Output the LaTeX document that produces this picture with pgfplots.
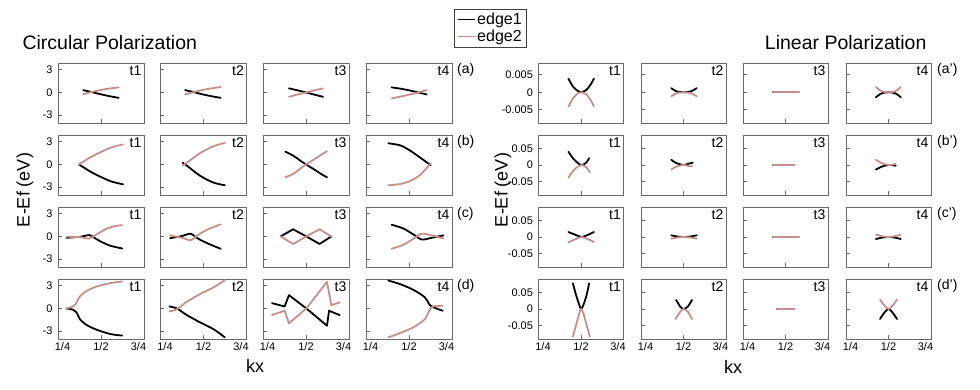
\documentclass[border=0pt]{standalone}
\usepackage{fontspec}
\setmainfont{Liberation Sans}
\usepackage{pgfplots}
\pgfplotsset{compat=1.18}
\definecolor{edgepink}{RGB}{196,144,140}
\definecolor{frame}{RGB}{105,105,105}

\pgfplotsset{
  panel/.style={scale only axis, width=86pt, height=60pt, anchor=south west,
    xmin=0.25, xmax=0.75, xtick={0.25,0.5,0.75}, xticklabels={},
    yticklabels={}, tick align=inside, xtick pos=bottom, ytick pos=left,
    scaled ticks=false, axis line style={frame, line width=0.8pt},
    major tick length=3.5pt, every tick/.style={frame, line width=0.8pt},
    tick label style={font=\fontsize{11}{12}\selectfont},
    yticklabel style={xshift=-2pt},
    every axis plot/.append style={line width=1.8pt, smooth, line cap=round, line join=round}},
  e1/.style={black}, e2/.style={edgepink},
  sharp/.style={every axis plot/.append style={sharp plot}},
  % left block: circular polarization
  L/.style={ymin=-4.05, ymax=3.9, ytick={-3,0,3}},
  Ly/.style={yticklabels={-3,0,3}},
  % right block: linear polarization
  Ra/.style={width=85pt, ymin=-0.0088, ymax=0.0084, ytick={-0.005,0,0.005}},
  Ray/.style={yticklabels={-0.005,0,0.005}},
  Rb/.style={width=85pt, ymin=-0.09, ymax=0.09, ytick={-0.05,0,0.05}},
  Rby/.style={yticklabels={-0.05,0,0.05}},
  xl/.style={xticklabels={\hspace*{9pt}1/4,1/2,3/4\hspace*{11pt}}},
  legimg/.style={legend entries={edge1,edge2},
    legend image code/.code={\draw[#1,sharp plot] (0pt,0pt) -- (16pt,0pt);},
    legend style={at={(5.03,1.583)}, anchor=center, draw=black!75, line width=0.6pt,
      font=\fontsize{16}{18}\selectfont, inner xsep=3pt, inner ysep=2pt,
      row sep=0pt},
    legend cell align=left},
}
\tikzset{tl/.style={anchor=north east, inner sep=2.5pt, font=\fontsize{14}{14}\selectfont}}

% #1 position, #2 options, #3 panel tag, #4 edge1, #5 edge2
\newcommand\panel[5]{%
  \begin{axis}[panel, at={(#1)}, #2]
    \addplot[e1] coordinates {#4};
    \addplot[e2] coordinates {#5};
    \node[tl] at (rel axis cs:1,1) {#3};
  \end{axis}}

\begin{document}
\begin{tikzpicture}
\useasboundingbox (0,0) rectangle (980pt,390pt);

% ---------- Circular polarization ----------
% row (a)
\panel{58pt,267pt}{L,Ly,legimg}{t1}
  {(0.397,0.31) (0.45,0.02) (0.50,-0.25) (0.55,-0.5) (0.603,-0.72)}
  {(0.397,-0.22) (0.45,0.08) (0.50,0.33) (0.55,0.52) (0.603,0.67)}
\panel{160.5pt,267pt}{L}{t2}
  {(0.393,0.31) (0.45,0.0) (0.50,-0.28) (0.55,-0.52) (0.60,-0.72)}
  {(0.393,-0.27) (0.45,0.08) (0.50,0.35) (0.55,0.55) (0.60,0.72)}
\panel{263pt,267pt}{L}{t3}
  {(0.401,0.54) (0.45,0.28) (0.50,0.0) (0.55,-0.3) (0.599,-0.58)}
  {(0.401,-0.58) (0.45,-0.28) (0.50,0.0) (0.55,0.28) (0.599,0.54)}
\panel{366pt,267pt}{L}{t4}
  {(0.399,0.67) (0.45,0.5) (0.50,0.28) (0.55,0.02) (0.603,-0.27)}
  {(0.399,-0.8) (0.45,-0.55) (0.50,-0.3) (0.55,-0.03) (0.603,0.31)}
% row (b)
\panel{58pt,195pt}{L,Ly}{t1}
  {(0.372,0.0) (0.436,-0.92) (0.495,-1.61) (0.554,-2.21) (0.60,-2.5) (0.628,-2.63)}
  {(0.372,0.0) (0.436,0.92) (0.495,1.6) (0.554,2.2) (0.60,2.5) (0.628,2.65)}
\panel{160.5pt,195pt}{L}{t2}
  {(0.379,0.23) (0.402,-0.14) (0.48,-1.5) (0.557,-2.4) (0.624,-2.76)}
  {(0.379,-0.1) (0.402,0.2) (0.48,1.5) (0.557,2.4) (0.624,2.86)}
\panel{263pt,195pt}{L}{t3}
  {(0.38,1.7) (0.43,1.1) (0.47,0.45) (0.50,0.0) (0.55,-0.7) (0.59,-1.3) (0.622,-1.7)}
  {(0.38,-1.7) (0.43,-1.2) (0.47,-0.5) (0.50,0.0) (0.55,0.7) (0.59,1.3) (0.622,1.75)}
\panel{366pt,195pt}{L}{t4}
  {(0.38,2.8) (0.448,2.53) (0.506,1.84) (0.564,0.92) (0.626,-0.1)}
  {(0.38,-2.77) (0.448,-2.6) (0.506,-2.2) (0.564,-1.4) (0.626,0.12)}
% row (c)
\panel{58pt,123pt}{L,Ly}{t1}
  {(0.299,-0.18) (0.377,-0.05) (0.432,0.18) (0.456,-0.1) (0.495,-0.64) (0.554,-1.23) (0.623,-1.59)}
  {(0.299,-0.05) (0.377,-0.09) (0.432,-0.27) (0.475,0.27) (0.534,1.05) (0.58,1.35) (0.623,1.5)}
\panel{160.5pt,123pt}{L}{t2}
  {(0.306,-0.23) (0.374,0.05) (0.426,0.36) (0.46,-0.18) (0.518,-0.86) (0.60,-1.64)}
  {(0.306,0.14) (0.374,-0.18) (0.426,-0.5) (0.46,0.05) (0.518,0.86) (0.60,1.6)}
\panel{263pt,123pt}{L,sharp}{t3}
  {(0.353,0) (0.425,0.95) (0.502,0) (0.579,-1.0) (0.647,0)}
  {(0.353,0) (0.425,-1.0) (0.502,0) (0.579,0.95) (0.647,0)}
\panel{366pt,123pt}{L}{t4}
  {(0.399,1.55) (0.467,1.05) (0.525,0.27) (0.574,-0.41) (0.632,-0.18) (0.70,0.14)}
  {(0.399,-1.64) (0.467,-1.1) (0.525,-0.32) (0.574,0.36) (0.632,0.14) (0.70,-0.27)}
% row (d)
\panel{58pt,51pt}{L,Ly,xl}{t1}
  {(0.299,0) (0.338,-0.18) (0.358,-0.53) (0.377,-1.41) (0.417,-2.2) (0.475,-2.82) (0.554,-3.39) (0.623,-3.6)}
  {(0.299,0) (0.338,0.26) (0.358,0.79) (0.377,1.59) (0.417,2.33) (0.475,2.9) (0.554,3.35) (0.623,3.57)}
\panel{160.5pt,51pt}{L,xl}{t2}
  {(0.302,0.26) (0.345,0) (0.403,-0.88) (0.48,-1.85) (0.557,-2.73) (0.624,-3.83)}
  {(0.302,-0.4) (0.345,-0.09) (0.403,0.88) (0.48,1.9) (0.557,2.78) (0.624,3.74)}
\panel{263pt,51pt}{L,xl,sharp}{t3}
  {(0.302,0.7) (0.376,0.26) (0.401,1.76) (0.502,0) (0.622,-2.29) (0.634,-0.31) (0.696,-0.88)}
  {(0.302,-0.88) (0.376,-0.31) (0.401,-1.98) (0.502,0) (0.622,3.52) (0.647,0.44) (0.696,0.79)}
\panel{366pt,51pt}{L,xl}{t4}
  {(0.38,3.7) (0.448,3.22) (0.525,2.47) (0.593,1.45) (0.626,0.35) (0.696,-0.31)}
  {(0.38,-3.83) (0.448,-3.26) (0.525,-2.51) (0.593,-1.41) (0.62,-0.18) (0.64,0.26) (0.696,0.35)}

% ---------- Linear polarization ----------
% row (a')
\panel{538.5pt,267pt}{Ra,Ray}{t1}
  {(0.426,0.0039) (0.455,0.0015) (0.484,0.0003) (0.504,0) (0.533,0.00075) (0.556,0.0022) (0.576,0.0039)}
  {(0.426,-0.0041) (0.455,-0.0016) (0.484,-0.0002) (0.504,0) (0.533,-0.00066) (0.556,-0.0022) (0.576,-0.004)}
\panel{641pt,267pt}{Ra}{t2}
  {(0.428,0.0012) (0.457,0.0003) (0.5,0) (0.545,0.0003) (0.578,0.0012)}
  {(0.428,-0.0012) (0.457,-0.0003) (0.5,0) (0.545,-0.0003) (0.578,-0.0012)}
\panel{743pt,267pt}{Ra}{t3}
  {(0.426,0) (0.578,0)}
  {(0.426,0) (0.578,0)}
\panel{846pt,267pt}{Ra}{t4}
  {(0.426,-0.0014) (0.46,-0.0003) (0.5,0) (0.54,-0.0003) (0.572,-0.0014)}
  {(0.426,0.0015) (0.46,0.0003) (0.5,0) (0.54,0.0003) (0.572,0.0015)}
% row (b')
\panel{538.5pt,195pt}{Rb,Rby}{t1}
  {(0.426,0.040) (0.455,0.0186) (0.484,0.005) (0.504,0) (0.529,0.006) (0.548,0.0206)}
  {(0.426,-0.038) (0.455,-0.0167) (0.484,-0.004) (0.504,0) (0.529,-0.006) (0.552,-0.0216)}
\panel{641pt,195pt}{Rb}{t2}
  {(0.428,0.0157) (0.457,0.006) (0.5,0) (0.53,0.004) (0.554,0.007)}
  {(0.428,-0.0137) (0.457,-0.005) (0.5,0) (0.53,-0.003) (0.55,-0.004)}
\panel{743pt,195pt}{Rb}{t3}
  {(0.426,0) (0.552,0)}
  {(0.426,0) (0.552,0)}
\panel{846pt,195pt}{Rb}{t4}
  {(0.426,-0.0137) (0.46,-0.005) (0.5,0) (0.543,-0.002)}
  {(0.426,0.0157) (0.46,0.006) (0.5,0) (0.543,0.003)}
% row (c')
\panel{538.5pt,123pt}{Rb,Rby}{t1}
  {(0.426,0.015) (0.465,0.007) (0.504,0) (0.543,0.007) (0.576,0.015)}
  {(0.426,-0.016) (0.465,-0.007) (0.504,0) (0.543,-0.007) (0.576,-0.015)}
\panel{641pt,123pt}{Rb}{t2}
  {(0.428,0.005) (0.465,0.0015) (0.5,0) (0.54,0.0015) (0.578,0.005)}
  {(0.428,-0.005) (0.465,-0.0015) (0.5,0) (0.54,-0.0015) (0.578,-0.005)}
\panel{743pt,123pt}{Rb}{t3}
  {(0.426,0) (0.578,0)}
  {(0.426,0) (0.578,0)}
\panel{846pt,123pt}{Rb}{t4}
  {(0.426,-0.006) (0.465,-0.0017) (0.5,0) (0.535,-0.0017) (0.572,-0.006)}
  {(0.426,0.007) (0.465,0.002) (0.5,0) (0.535,0.002) (0.572,0.007)}
% row (d')
\panel{538.5pt,51pt}{Rb,Rby,xl}{t1}
  {(0.452,0.077) (0.471,0.042) (0.49,0.012) (0.5,0) (0.514,0.012) (0.533,0.042) (0.548,0.077)}
  {(0.452,-0.083) (0.471,-0.048) (0.49,-0.013) (0.5,0) (0.514,-0.013) (0.533,-0.048) (0.552,-0.083)}
\panel{641pt,51pt}{Rb,xl}{t2}
  {(0.457,0.027) (0.481,0.007) (0.5,0) (0.525,0.007) (0.55,0.027)}
  {(0.453,-0.03) (0.481,-0.008) (0.5,0) (0.525,-0.008) (0.55,-0.03)}
\panel{743pt,51pt}{Rb,xl}{t3}
  {(0.45,0) (0.552,0)}
  {(0.45,0) (0.552,0)}
\panel{846pt,51pt}{Rb,xl}{t4}
  {(0.45,-0.03) (0.477,-0.01) (0.5,0) (0.523,-0.01) (0.55,-0.03)}
  {(0.45,0.028) (0.477,0.01) (0.5,0) (0.523,0.01) (0.55,0.028)}

% ---------- titles and labels ----------
\node[anchor=west, font=\fontsize{19.5}{20}\selectfont] at (19pt,347pt) {Circular Polarization};
\node[anchor=east, font=\fontsize{19.5}{20}\selectfont] at (930pt,347pt) {Linear Polarization};
\node[rotate=90, font=\fontsize{18}{18}\selectfont] at (25pt,200pt) {E-Ef (eV)};
\node[rotate=90, font=\fontsize{18}{18}\selectfont] at (503pt,200pt) {E-Ef (eV)};
\node[font=\fontsize{18}{18}\selectfont] at (255pt,24pt) {kx};
\node[font=\fontsize{18}{18}\selectfont] at (733pt,23pt) {kx};
\foreach \lab/\yy in {a/327,b/255,c/183,d/111}{
  \node[anchor=north west, inner sep=0pt, font=\fontsize{14}{14}\selectfont] at (457pt,\yy pt) {(\lab)};
  \node[anchor=north west, inner sep=0pt, font=\fontsize{14}{14}\selectfont] at (937pt,\yy pt) {(\lab\symbol{39})};
}
\end{tikzpicture}
\end{document}
